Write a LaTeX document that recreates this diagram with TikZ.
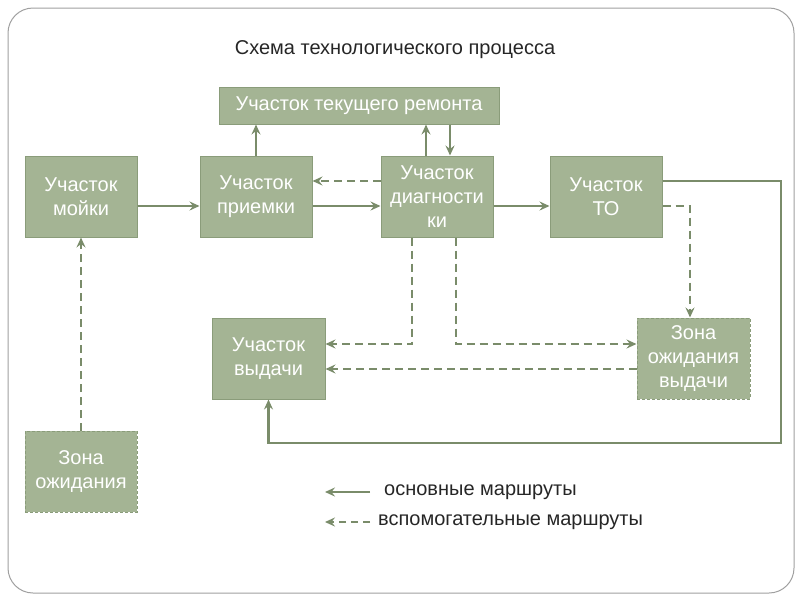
\documentclass[tikz,border=0pt]{standalone}
\usepackage{fontspec}
\setmainfont{Liberation Sans}
\usetikzlibrary{arrows.meta}
\definecolor{boxfill}{HTML}{A4B494}
\definecolor{boxdraw}{HTML}{8A9C7A}
\definecolor{linec}{HTML}{7A8C6A}
\definecolor{framec}{HTML}{A0A0A0}
\begin{document}
\begin{tikzpicture}[x=1pt,y=-1pt,
  box/.style={draw=boxdraw,fill=boxfill,line width=1pt,text=white,align=center,
    font=\fontsize{20}{24}\selectfont,inner sep=0pt},
  wbox/.style={box,minimum width=112pt,minimum height=81pt},
  zbox/.style={wbox,dashed,dash pattern=on 3pt off 2pt},
  main/.style={draw=linec,line width=2.4pt,-{Stealth[length=10pt,width=9pt,inset=3.5pt]}},
  aux/.style={main,dash pattern=on 8pt off 5pt},
  lbl/.style={font=\fontsize{20}{24}\selectfont,text=black!85,anchor=west,inner sep=0pt}]
\useasboundingbox (0,0) rectangle (800,600);
\draw[framec,line width=1pt,rounded corners=25pt] (8,8) rectangle (794,593);
\node[font=\fontsize{20}{24}\selectfont,text=black!85] (title) at (395,50) {Схема технологического процесса};

\node[wbox] (moyka) at (81,196.5) {Участок\\мойки};
\node[wbox] (priem) at (256,196.5) {Участок\\приемки};
\node[wbox] (diag) at (437,196.5) {Участок\\диагности\\ки};
\node[wbox] (to) at (606,196.5) {Участок\\ТО};
\node[box,minimum width=280pt,minimum height=37pt] (remont) at (359,105.5) {Участок текущего ремонта};
\node[wbox,minimum width=113pt] (vydacha) at (268.5,358.5) {Участок\\выдачи};
\node[zbox,minimum width=113pt] (zvyd) at (693.5,358.5) {Зона\\ожидания\\выдачи};
\node[zbox] (zona) at (81,471.5) {Зона\\ожидания};

% main routes
\draw[main] (moyka.east |- 0,206) -- (priem.west |- 0,206);
\draw[main] (priem.east |- 0,206) -- (diag.west |- 0,206);
\draw[main] (diag.east |- 0,206) -- (to.west |- 0,206);
\draw[main] (priem.north) -- (remont.south -| priem.north);
\draw[main] (diag.north -| 426,0) -- (remont.south -| 426,0);
\draw[main] (remont.south -| 450,0) -- (diag.north -| 450,0);
\coordinate (c1) at (781,181);
\coordinate (c2) at (781,443);
\draw[main] (to.east |- 0,181) -- (c1) -- (c2) -- (c2 -| vydacha.south) -- (vydacha.south);

% auxiliary routes
\draw[aux] (diag.west |- 0,181) -- (priem.east |- 0,181);
\draw[aux] (to.east |- 0,206) -- (690,206) -- (zvyd.north -| 690,0);
\draw[aux] (diag.south -| 412,0) -- (412,344) -- (vydacha.east |- 0,344);
\draw[aux] (diag.south -| 456,0) -- (456,344) -- (zvyd.west |- 0,344);
\draw[aux] (zvyd.west |- 0,369) -- (vydacha.east |- 0,369);
\draw[aux] (zona.north) -- (moyka.south);

% legend
\coordinate (l1a) at (370,492);
\coordinate (l1b) at (325,492);
\coordinate (l2a) at (370,522);
\coordinate (l2b) at (325,522);
\draw[main] (l1a) -- (l1b);
\draw[aux,dash pattern=on 7pt off 5pt] (l2a) -- (l2b);
\node[lbl] (leg1) at (384,492) {основные маршруты};
\node[lbl] (leg2) at (378,522) {вспомогательные маршруты};
\end{tikzpicture}
\end{document}
